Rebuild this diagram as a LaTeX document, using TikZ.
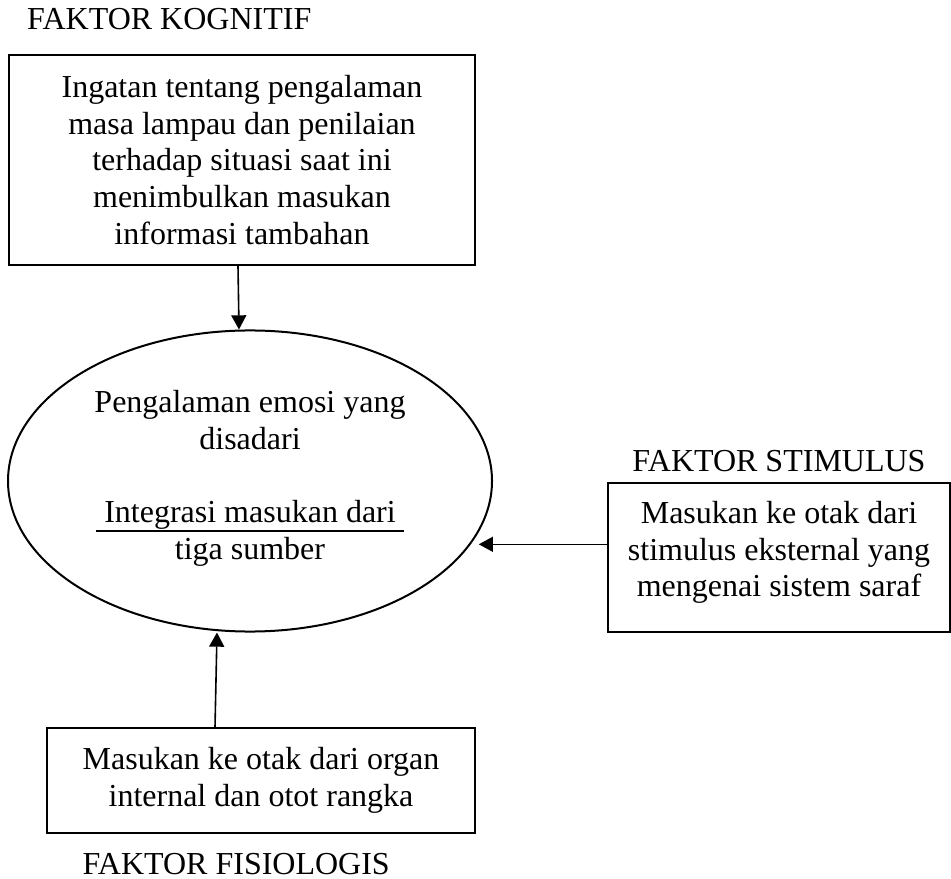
\documentclass[tikz,border=0pt]{standalone}
\usepackage{fontspec}
\setmainfont{Liberation Serif}
\usetikzlibrary{arrows.meta,positioning,calc,shapes.geometric}

\newsavebox{\gbbox}
\newcommand{\garisbawah}[1]{\sbox{\gbbox}{#1}\rlap{\rule[-3.4pt]{\wd\gbbox}{0.75pt}}\usebox{\gbbox}}

\begin{document}
\begin{tikzpicture}[
    x=0.375pt, y=-0.375pt,
    font=\fontsize{12}{13.8}\selectfont,
    box/.style={draw, line width=0.75pt, align=center, inner sep=0pt},
    oval/.style={draw, ellipse, line width=0.75pt, align=center, inner sep=0pt,
      minimum width=181.5pt, minimum height=112.9pt},
    judul/.style={inner sep=0pt},
    arrow/.style={-{Triangle[width=5.6pt,length=5.3pt]}, line width=0.6pt}
  ]
    \useasboundingbox (0,0) rectangle (951,879);
    \node[box, minimum width=174.75pt, minimum height=78.75pt] (kog) at (242,160)
      {Ingatan tentang pengalaman\\masa lampau dan penilaian\\terhadap situasi saat ini\\menimbulkan masukan\\informasi tambahan};
    \node[oval] (emosi) at (250,481)
      {Pengalaman emosi yang\\disadari\\[13.8pt]\garisbawah{\ Integrasi masukan dari\ }\\tiga sumber\rule[-4.6pt]{0pt}{0pt}};
    \node[box, minimum width=128.25pt, minimum height=55.9pt] (stim) at (779,557.5)
      {Masukan ke otak dari\\stimulus eksternal yang\\mengenai sistem saraf\rule[-6.4pt]{0pt}{0pt}};
    \node[box, minimum width=160.5pt, minimum height=39.4pt] (fis) at (261,780.5)
      {Masukan ke otak dari organ\\internal dan otot rangka};
    \node[judul, above right=9pt and 7pt of kog.north west] (lblkog) {FAKTOR KOGNITIF};
    \node[judul, above=3.75pt of stim] (lblstim) {FAKTOR STIMULUS};
    \node[judul, below right=7.2pt and 13.5pt of fis.south west] (lblfis) {FAKTOR FISIOLOGIS};
    \draw[arrow] ($(kog.south)+(-4,0)$) -- ($(emosi.north)+(-11,0)$);
    \draw[arrow, shorten >=3pt] (stim.west |- emosi.-16.9) -- (emosi.-16.9);
    \draw[arrow] ($(fis.north)+(-46,0)$) -- ($(emosi.south)+(-33,0)$);
  \end{tikzpicture}
\end{document}
